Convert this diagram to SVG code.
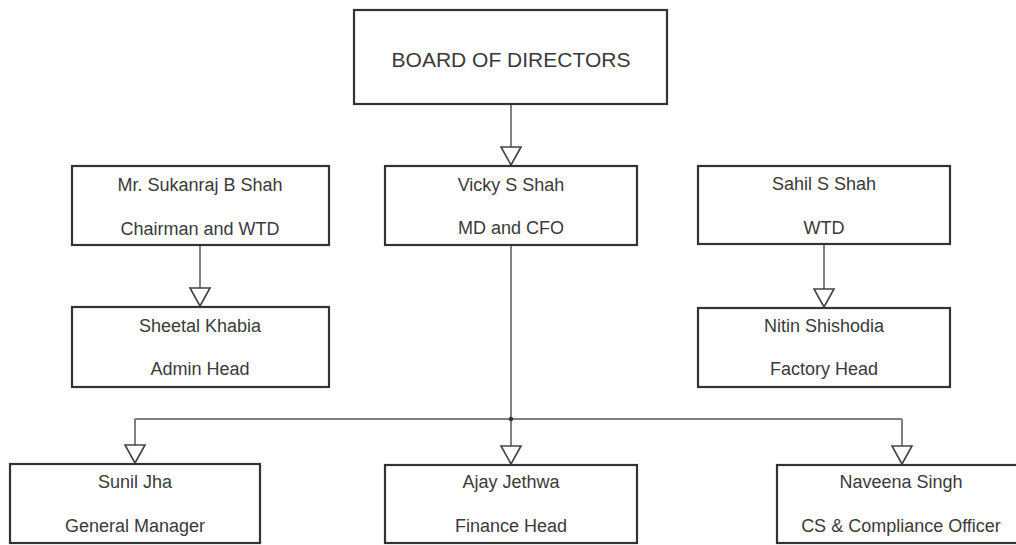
<svg xmlns="http://www.w3.org/2000/svg" width="1016" height="545" viewBox="0 0 1016 545">
  <style>
    .box { fill: #ffffff; stroke: #333333; stroke-width: 2.2; }
    .t { font-family: "Liberation Sans", Arial, sans-serif; font-size: 18px; fill: #3a3a3a; text-anchor: middle; }
    .tb { font-family: "Liberation Sans", Arial, sans-serif; font-size: 21px; fill: #3a3a3a; text-anchor: middle; }
    .conn { fill: none; stroke: #808080; stroke-width: 2; }
  </style>
  <defs>
    <marker id="tri" viewBox="0 0 20 22" refX="19" refY="11" markerWidth="20" markerHeight="22" markerUnits="userSpaceOnUse" orient="auto" overflow="visible">
      <path d="M1 1 L19 11 L1 21 Z" fill="#ffffff" stroke="#444444" stroke-width="1.6" stroke-linejoin="miter"/>
    </marker>
  </defs>
  <rect x="0" y="0" width="1016" height="545" fill="#ffffff"/>

  <g id="connectors">
    <path class="conn" d="M511 104 V165" marker-end="url(#tri)"/>
    <path class="conn" d="M200 245 V306" marker-end="url(#tri)"/>
    <path class="conn" d="M824 244 V307" marker-end="url(#tri)"/>
    <path class="conn" d="M511 245 V464" marker-end="url(#tri)"/>
    <path class="conn" d="M135 419 H902"/>
    <path class="conn" d="M135 419 V463" marker-end="url(#tri)"/>
    <path class="conn" d="M902 419 V464" marker-end="url(#tri)"/>
    <circle cx="511" cy="419" r="2.2" fill="#333333"/>
  </g>

  <g id="board">
    <rect class="box" x="354" y="10" width="313" height="94"/>
    <text class="tb" x="511" y="67">BOARD OF DIRECTORS</text>
  </g>
  <g id="chairman">
    <rect class="box" x="72" y="166" width="257" height="79"/>
    <text class="t" x="200" y="191">Mr. Sukanraj B Shah</text>
    <text class="t" x="200" y="235">Chairman and WTD</text>
  </g>
  <g id="vicky">
    <rect class="box" x="385" y="166" width="252" height="79"/>
    <text class="t" x="511" y="191">Vicky S Shah</text>
    <text class="t" x="511" y="234">MD and CFO</text>
  </g>
  <g id="sahil">
    <rect class="box" x="698" y="166" width="252" height="78"/>
    <text class="t" x="824" y="190">Sahil S Shah</text>
    <text class="t" x="824" y="234">WTD</text>
  </g>
  <g id="sheetal">
    <rect class="box" x="72" y="307" width="257" height="80"/>
    <text class="t" x="200" y="332">Sheetal Khabia</text>
    <text class="t" x="200" y="375">Admin Head</text>
  </g>
  <g id="nitin">
    <rect class="box" x="698" y="308" width="252" height="79"/>
    <text class="t" x="824" y="332">Nitin Shishodia</text>
    <text class="t" x="824" y="375">Factory Head</text>
  </g>
  <g id="sunil">
    <rect class="box" x="10" y="464" width="250" height="79"/>
    <text class="t" x="135" y="488">Sunil Jha</text>
    <text class="t" x="135" y="532">General Manager</text>
  </g>
  <g id="ajay">
    <rect class="box" x="385" y="465" width="252" height="78"/>
    <text class="t" x="511" y="488">Ajay Jethwa</text>
    <text class="t" x="511" y="532">Finance Head</text>
  </g>
  <g id="naveena">
    <rect class="box" x="777" y="465" width="252" height="78"/>
    <text class="t" x="901" y="488">Naveena Singh</text>
    <text class="t" x="901" y="532">CS &amp; Compliance Officer</text>
  </g>
</svg>
